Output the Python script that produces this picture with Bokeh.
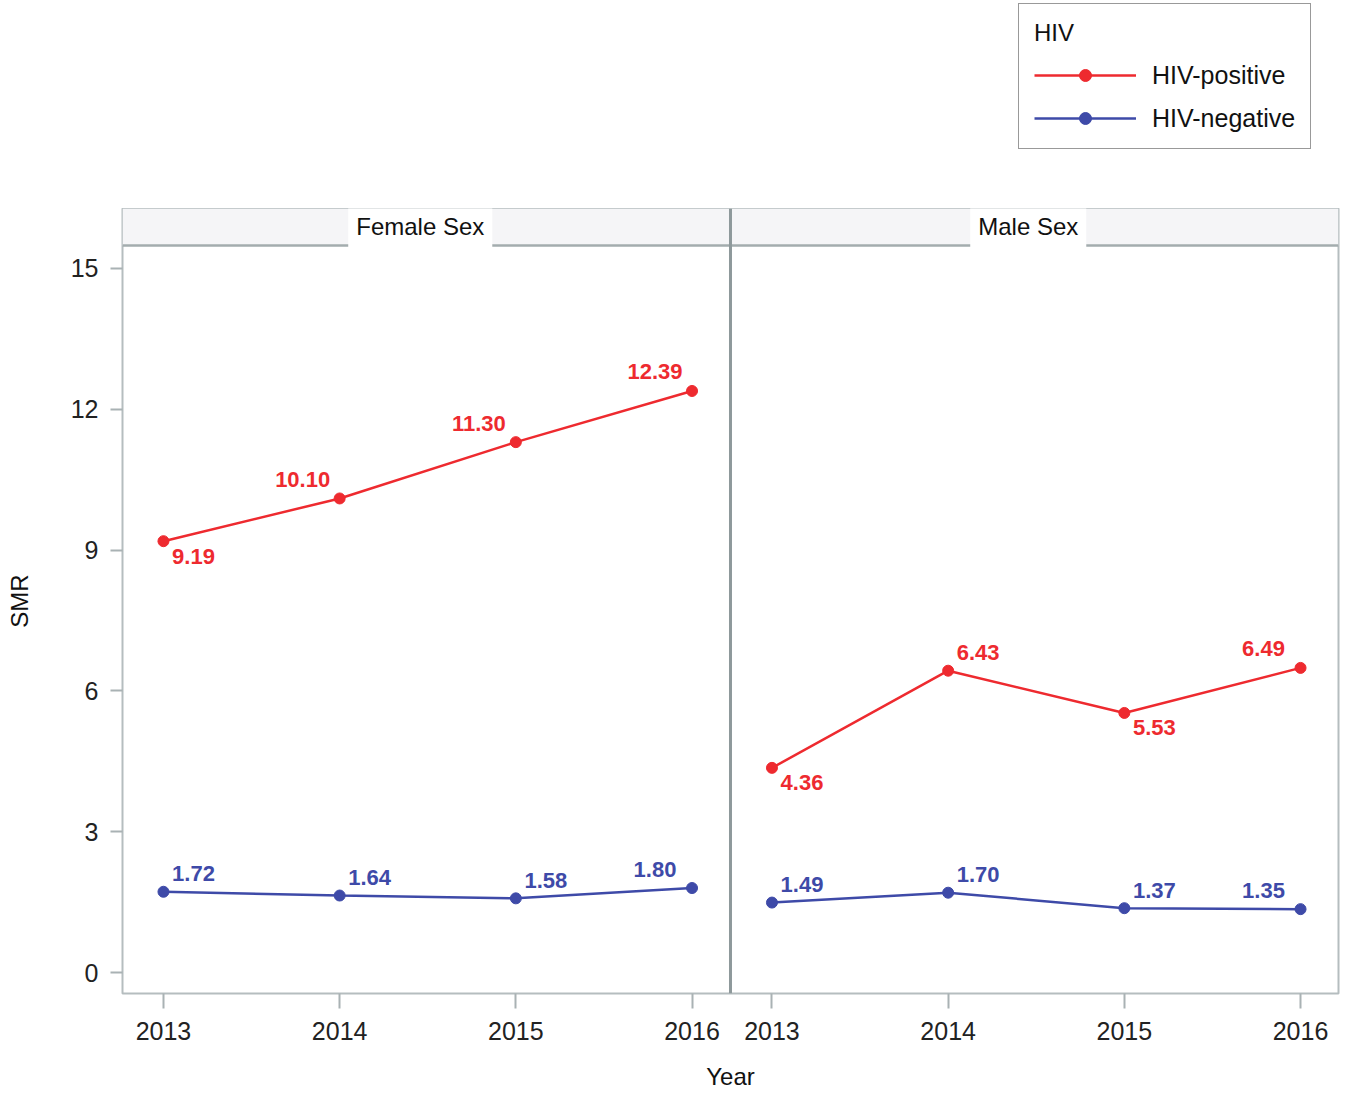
from bokeh.plotting import figure
from bokeh.models import Range1d, FixedTicker, CustomJSTickFormatter, Legend, LegendItem
from bokeh.layouts import column
from bokeh.core.properties import value
from bokeh.embed import file_html
from bokeh.resources import INLINE

# ---------------- data ----------------
years = [2013, 2014, 2015, 2016]
panels = ["Female Sex", "Male Sex"]
female_pos = [9.19, 10.10, 11.30, 12.39]
female_neg = [1.72, 1.64, 1.58, 1.80]
male_pos = [4.36, 6.43, 5.53, 6.49]
male_neg = [1.49, 1.70, 1.37, 1.35]
y_ticks = [0, 3, 6, 9, 12, 15]
series_names = ["HIV-positive", "HIV-negative"]

# label placement (style)
female_pos_place = ["br", "al", "al", "al"]
female_neg_place = ["ar", "ar", "ar", "al"]
male_pos_place = ["br", "ar", "br", "al"]
male_neg_place = ["ar", "ar", "ar", "al"]

RED = "#ee2a2f"
BLUE = "#3e4aa8"
FONT = "Liberation Sans"
GRAY = "#a9b2b4"

# ---------------- geometry (data units) ----------------
pad_l, pad_r = 0.2325, 0.2155
panel_w = 3 + pad_l + pad_r
x0 = years[0] - pad_l
div = x0 + panel_w
male_off = panel_w + 0.0057
x1 = x0 + 2 * panel_w + 0.0057
y_bot, y_head, y_top = -0.4474, 15.49, 16.278

W = 1341
p = figure(width=W, height=890, output_backend="svg", toolbar_location=None,
           x_range=Range1d(x0, x1), y_range=Range1d(y_bot, y_top),
           min_border_left=122, min_border_right=3, min_border_top=0,
           min_border_bottom=105)
p.xgrid.visible = False
p.ygrid.visible = False
p.outline_line_color = "#b5bdbf"
p.outline_line_width = 2
p.background_fill_color = "white"

# header strips
p.quad(left=[x0, div], right=[div, x1], bottom=[y_head, y_head], top=[y_top, y_top],
       fill_color="#f5f5f7", line_color=None)
p.segment(x0=[x0], x1=[x1], y0=[y_head], y1=[y_head], line_color="#a3acae", line_width=2.5)
p.segment(x0=[div + 0.0028], x1=[div + 0.0028], y0=[y_bot], y1=[y_top],
          line_color="#8e999b", line_width=3)
p.text(x=[(x0 + div) / 2, (div + x1) / 2], y=[(y_head + y_top) / 2] * 2, text=panels,
       x_offset=-6, text_font=value(FONT), text_font_size="24px", text_color="#111111",
       text_align="center", text_baseline="middle",
       background_fill_color="white", padding=8)

offsets = {"ar": (30, -18), "al": (-37, -19), "br": (30, 15)}


def draw(xs, ys, place, color):
    p.line(xs, ys, line_color=color, line_width=2.5)
    p.scatter(xs, ys, size=11, fill_color=color, line_color=color)
    for x, y, pl in zip(xs, ys, place):
        dx, dy = offsets[pl]
        p.text(x=[x], y=[y], text=[f"{y:.2f}"], x_offset=dx, y_offset=dy,
               text_font=value(FONT), text_font_size="22px", text_font_style="bold",
               text_color=color, text_align="center", text_baseline="middle")


male_x = [yr + male_off for yr in years]
draw(years, female_pos, female_pos_place, RED)
draw(years, female_neg, female_neg_place, BLUE)
draw(male_x, male_pos, male_pos_place, RED)
draw(male_x, male_neg, male_neg_place, BLUE)

# axes
p.xaxis.ticker = FixedTicker(ticks=years + male_x)
p.xaxis.formatter = CustomJSTickFormatter(
    code=f"return String(Math.round(tick > {div} ? tick - {male_off} : tick));")
p.yaxis.ticker = FixedTicker(ticks=y_ticks)
p.xaxis.axis_label = "Year"
p.yaxis.axis_label = "SMR"
for ax in (p.xaxis[0], p.yaxis[0]):
    ax.axis_line_color = None
    ax.major_tick_line_color = GRAY
    ax.major_tick_line_width = 2
    ax.minor_tick_line_color = None
    ax.major_tick_in = 0
    ax.major_label_text_font = FONT
    ax.major_label_text_font_size = "25px"
    ax.major_label_text_color = "#222222"
    ax.axis_label_text_font = FONT
    ax.axis_label_text_font_size = "24px"
    ax.axis_label_text_font_style = "normal"
    ax.axis_label_text_color = "#111111"
p.xaxis.major_tick_out = 15
p.xaxis.major_label_standoff = 13
p.xaxis.axis_label_standoff = 20
p.yaxis.major_tick_out = 12
p.yaxis.major_label_standoff = 12
p.yaxis.axis_label_standoff = 35

# ---------------- legend figure ----------------
top = figure(width=W, height=208, output_backend="svg", toolbar_location=None,
             x_axis_type=None, y_axis_type=None, x_range=Range1d(0, 1), y_range=Range1d(0, 1),
             min_border=0)
top.outline_line_color = None
top.xgrid.visible = False
top.ygrid.visible = False
items = []
for name, color in zip(series_names, [RED, BLUE]):
    lr = top.line(x=[-5, -4], y=[-5, -4], line_color=color, line_width=2.5)
    sr = top.scatter(x=[-5], y=[-5], size=15, fill_color=color, line_color=color)
    items.append(LegendItem(label=name, renderers=[lr, sr]))
leg = Legend(items=items, location=(896, 59), title="HIV",
             title_text_font=FONT, title_text_font_size="24px", title_text_font_style="normal",
             title_text_color="#111111", title_standoff=13,
             label_text_font=FONT, label_text_font_size="25px", label_text_color="#111111",
             glyph_width=102, glyph_height=30, label_standoff=16, spacing=13,
             padding=15, margin=0, border_line_color="#333333", border_line_width=1.5,
             background_fill_color="white")
top.add_layout(leg)

layout = column(top, p)
open("out.html", "w").write(file_html(layout, INLINE))
